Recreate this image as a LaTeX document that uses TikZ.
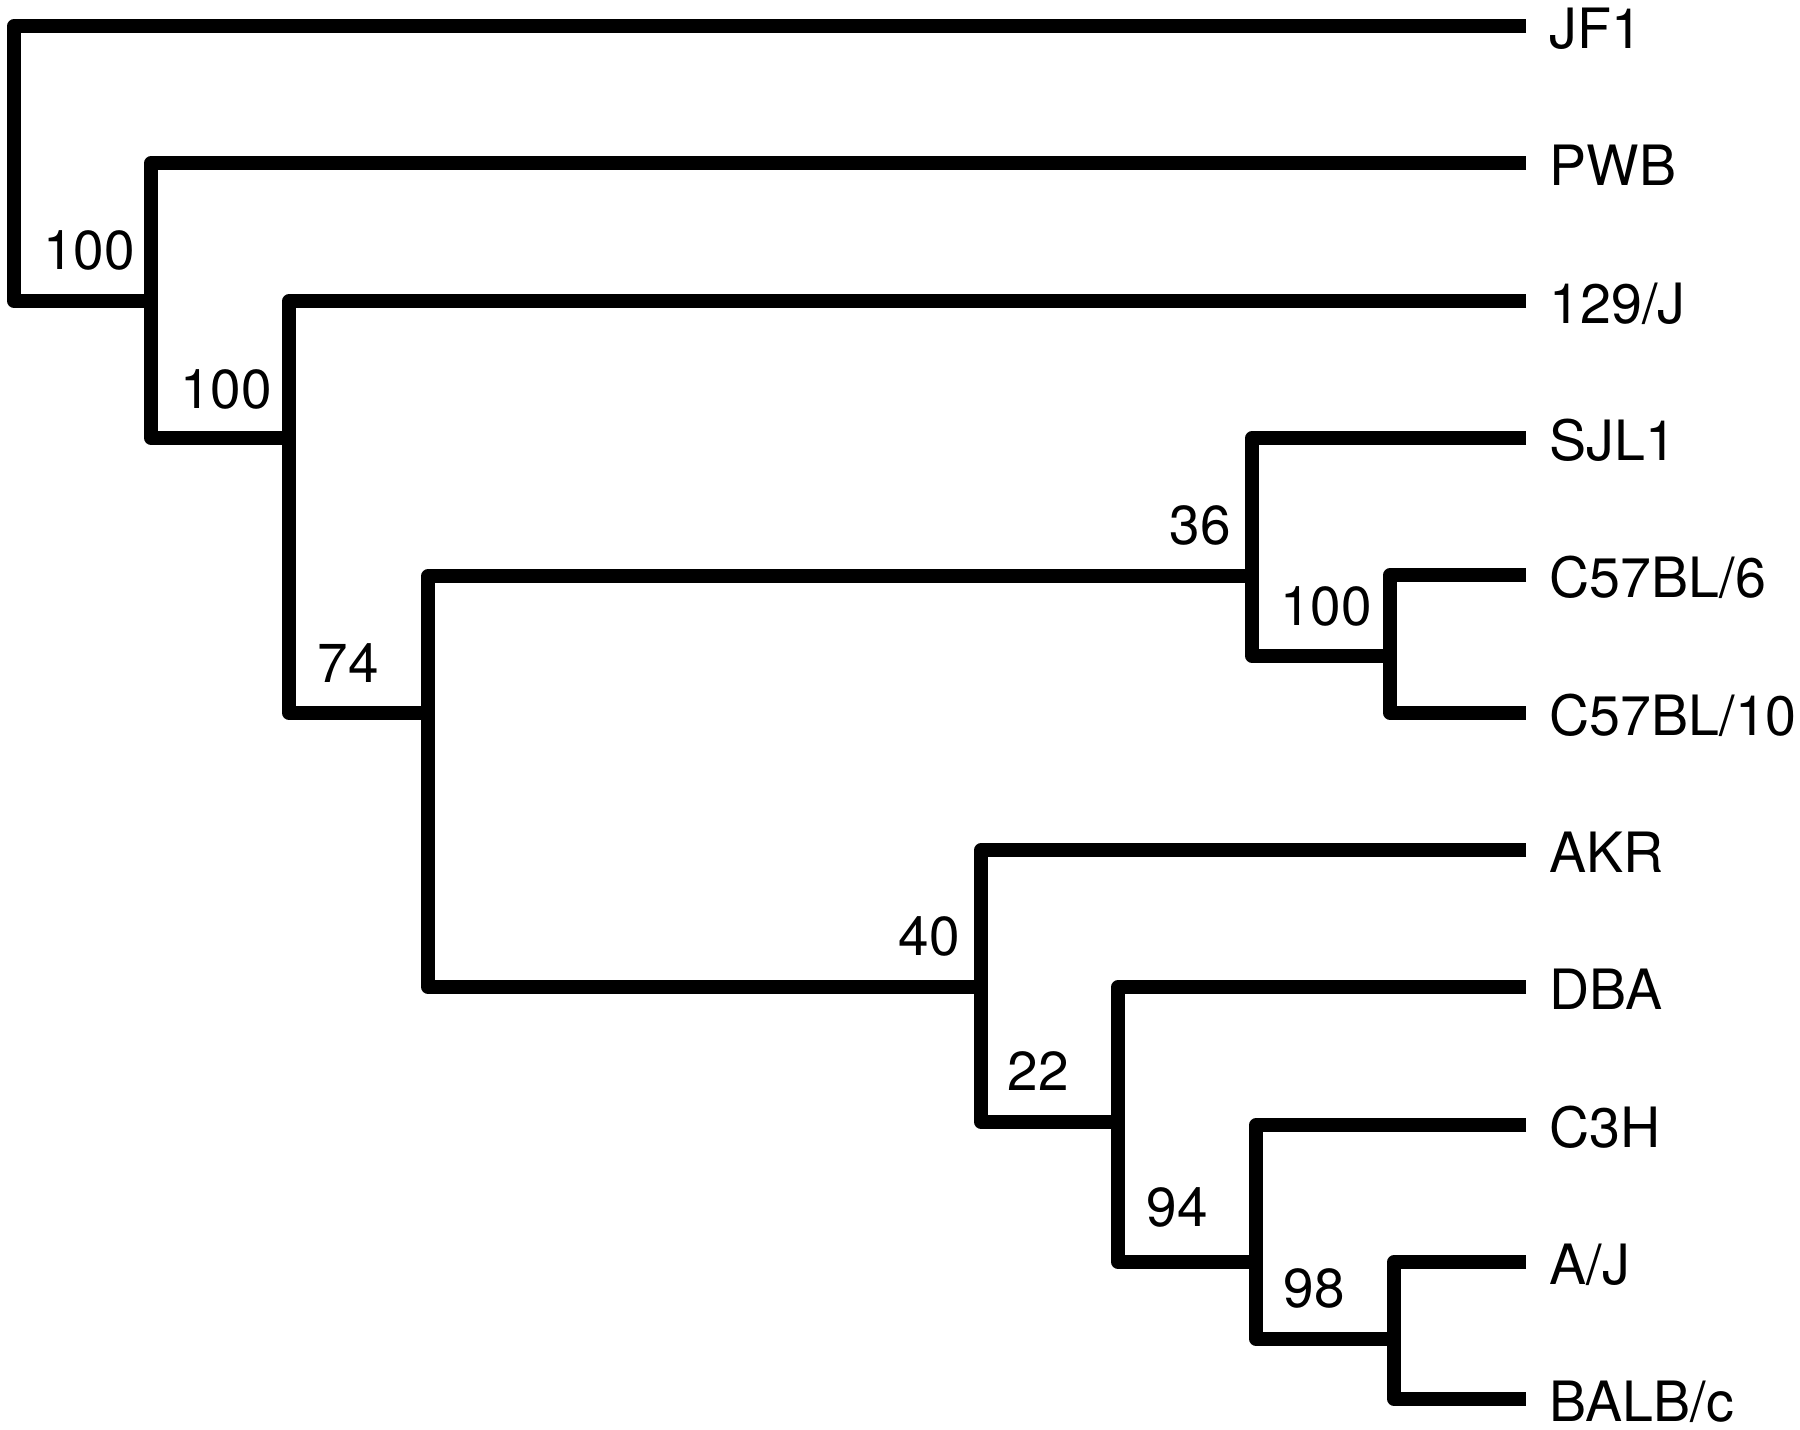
\documentclass[tikz,border=0pt]{standalone}
\usepackage{fontspec}
\setmainfont{TeX Gyre Heros}
\begin{document}
\begin{tikzpicture}[x=0.01cm,y=-0.01cm,
  branch/.style={line width=0.135cm, line join=round, line cap=butt},
  leaf/.style={anchor=base west, inner sep=0pt, font=\fontsize{15.8}{18}\selectfont},
  boot/.style={inner sep=0pt, font=\fontsize{15.6}{18}\selectfont}]
\useasboundingbox (0,0) rectangle (1800,1429);
% leaf line ends
\coordinate (eJF1)   at (1526,26);
\coordinate (ePWB)   at (1526,163);
\coordinate (e129)   at (1526,301);
\coordinate (eSJL)   at (1526,438);
\coordinate (eC6)    at (1526,575);
\coordinate (eC10)   at (1526,713);
\coordinate (eAKR)   at (1526,850);
\coordinate (eDBA)   at (1526,987);
\coordinate (eC3H)   at (1526,1125);
\coordinate (eAJ)    at (1526,1262);
\coordinate (eBALB)  at (1526,1399);
% leaf labels
\node[leaf] (tJF1)  at (1549,48)   {JF1};
\node[leaf] (tPWB)  at (1549,185)  {PWB};
\node[leaf] (t129)  at (1549,323)  {129/J};
\node[leaf] (tSJL)  at (1549,460)  {SJL1};
\node[leaf] (tC6)   at (1549,597)  {C57BL/6};
\node[leaf] (tC10)  at (1549,735)  {C57BL/10};
\node[leaf] (tAKR)  at (1549,872)  {AKR};
\node[leaf] (tDBA)  at (1549,1009) {DBA};
\node[leaf] (tC3H)  at (1549,1147) {C3H};
\node[leaf] (tAJ)   at (1549,1284) {A/J};
\node[leaf] (tBALB) at (1549,1421) {BALB/c};
% internal nodes
\coordinate (n1)  at (14,163);
\coordinate (n2)  at (151,301);
\coordinate (n3)  at (289,438);
\coordinate (n4)  at (428,713);
\coordinate (n5)  at (1252,576);
\coordinate (n6)  at (1390,656);
\coordinate (n7)  at (981,987);
\coordinate (n8)  at (1118,1122);
\coordinate (n9)  at (1256,1262);
\coordinate (n10) at (1394,1339);
% branches
\draw[branch] (eJF1) -| (n1) |- (n2);
\draw[branch] (ePWB) -| (n2) |- (n3);
\draw[branch] (e129) -| (n3) |- (n4);
\draw[branch] (n5) -| (n4) |- (n7);
\draw[branch] (eSJL) -| (n5) |- (n6);
\draw[branch] (eC6) -| (n6) |- (eC10);
\draw[branch] (eAKR) -| (n7) |- (n8);
\draw[branch] (eDBA) -| (n8) |- (n9);
\draw[branch] (eC3H) -| (n9) |- (n10);
\draw[branch] (eAJ) -| (n10) |- (eBALB);
% bootstrap values
\node[boot] (b1) at (89,250)   {100};
\node[boot] (b2) at (226,389)  {100};
\node[boot] (b3) at (348,663)  {74};
\node[boot] (b4) at (1200,525) {36};
\node[boot] (b5) at (1326,606) {100};
\node[boot] (b6) at (929,936)  {40};
\node[boot] (b7) at (1038,1071) {22};
\node[boot] (b8) at (1177,1207) {94};
\node[boot] (b9) at (1314,1288) {98};
\end{tikzpicture}
\end{document}
